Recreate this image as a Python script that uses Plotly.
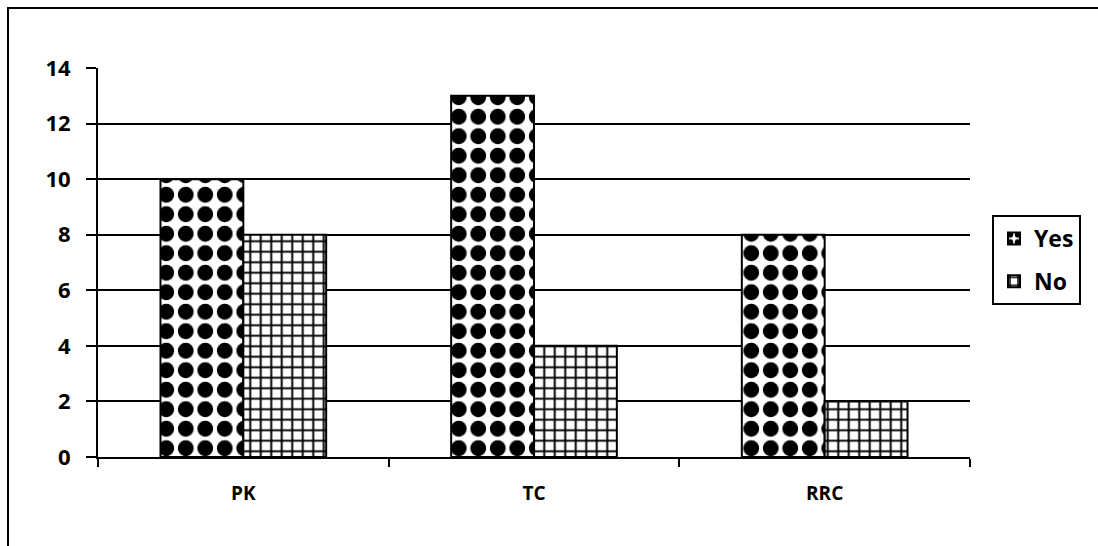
import plotly.graph_objects as go

categories = ["PK", "TC", "RRC"]
yes_values = [10, 13, 8]
no_values = [8, 4, 2]
y_ticks = [0, 2, 4, 6, 8, 10, 12, 14]

FONT = "'Open Sans', 'Noto Sans', sans-serif"

fig = go.Figure()
fig.add_trace(go.Bar(
    name="<b>Yes</b>", x=categories, y=yes_values, legendgroup="yes",
    marker=dict(color="white", line=dict(color="black", width=2),
                pattern=dict(shape=".", fgcolor="black", bgcolor="white",
                             fillmode="replace", size=19.5, solidity=0.52)),
))
fig.add_trace(go.Bar(
    name="<b>No</b>", x=categories, y=no_values, legendgroup="no",
    marker=dict(color="white", line=dict(color="black", width=2),
                pattern=dict(shape="+", fgcolor="black", bgcolor="white",
                             fillmode="replace", size=10.5, solidity=0.34)),
))

W, H = 1098, 546
L, R, T, B = 98, 128, 68, 89
pw, ph = W - L - R, H - T - B

def px_x(p):
    return (p - L) / pw

def px_y(p):
    return (H - B - p) / ph

fig.update_layout(
    width=W, height=H,
    margin=dict(l=L, r=R, t=T, b=B),
    paper_bgcolor="white", plot_bgcolor="white",
    barmode="group", bargap=0.43, bargroupgap=0,
    font=dict(family=FONT, color="black"),
    showlegend=True,
    legend=dict(x=px_x(992), xanchor="left", y=px_y(260), yanchor="middle",
                bordercolor="black", borderwidth=2, bgcolor="white",
                font=dict(size=23, family=FONT, color="black"),
                traceorder="grouped", tracegroupgap=10, itemwidth=30),
    shapes=[dict(type="rect", xref="paper", yref="paper",
                 x0=px_x(8), x1=px_x(W + 20), y0=px_y(H + 20), y1=px_y(8),
                 line=dict(color="black", width=2), layer="below")],
)
fig.update_xaxes(
    type="category", showline=True, linecolor="black", linewidth=2,
    ticks="outside", tickson="boundaries", ticklen=8, tickwidth=2, tickcolor="black",
    showgrid=False, ticklabelstandoff=18,
    tickvals=categories, ticktext=[f"<b>{c}</b>" for c in categories],
    tickfont=dict(size=19, family=FONT, color="black"),
)
fig.update_yaxes(
    range=[0, 14], tickvals=y_ticks, ticktext=[f"<b>{v}</b>" for v in y_ticks],
    showline=True, linecolor="black", linewidth=2,
    ticks="outside", ticklen=10, tickwidth=2, tickcolor="black",
    showgrid=True, gridcolor="black", gridwidth=2, zeroline=False,
    ticklabelstandoff=11,
    tickfont=dict(size=22, family=FONT, color="black"),
)

fig.write_html("out.html")
